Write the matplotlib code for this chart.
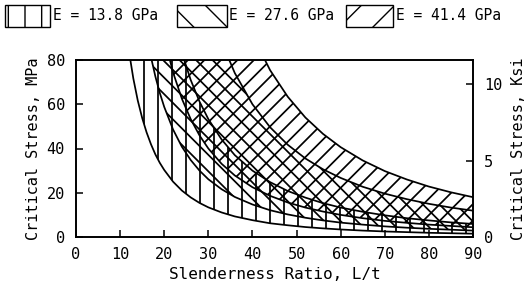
import matplotlib
matplotlib.use("Agg")
import numpy as np
import matplotlib.pyplot as plt
from matplotlib.patches import Rectangle, Polygon
from matplotlib.collections import LineCollection
from matplotlib.transforms import IdentityTransform

plt.rcParams['font.family'] = ['DejaVu Sans Mono', 'DejaVu Sans']

# Slenderness ratio L/t
slenderness = [12, 13, 14, 15, 16, 17, 18, 19, 20, 22, 24, 26, 28, 30, 33, 36,
               40, 44, 48, 52, 56, 60, 65, 70, 75, 80, 85, 90]

# E = 13.8 GPa band (MPa)
e138_lower = [84.0, 71.6, 61.7, 53.8, 47.3, 41.9, 37.3, 33.5, 30.3, 25.0, 21.0, 17.9,
              15.4, 13.4, 11.1, 9.3, 7.6, 6.2, 5.3, 4.5, 3.9, 3.4, 2.9, 2.5, 2.2, 1.9, 1.7, 1.5]
e138_upper = [333.3, 284.0, 244.9, 213.3, 187.5, 166.1, 148.1, 133.0, 120.0, 99.2, 83.3, 71.0,
              61.2, 53.3, 44.1, 37.0, 30.0, 24.8, 20.8, 17.8, 15.3, 13.3, 11.4, 9.8, 8.5, 7.5, 6.6, 5.9]

# E = 27.6 GPa band (MPa)
e276_lower = [163.2, 139.1, 119.9, 104.4, 91.8, 81.3, 72.5, 65.1, 58.8, 48.6, 40.8, 34.8,
              30.0, 26.1, 21.6, 18.1, 14.7, 12.1, 10.2, 8.7, 7.5, 6.5, 5.6, 4.8, 4.2, 3.7, 3.3, 2.9]
e276_upper = [666.7, 568.0, 489.8, 426.7, 375.0, 332.2, 296.3, 265.9, 240.0, 198.3, 166.7, 142.0,
              122.4, 106.7, 88.2, 74.1, 60.0, 49.6, 41.7, 35.5, 30.6, 26.7, 22.7, 19.6, 17.1, 15.0, 13.3, 11.9]

# E = 41.4 GPa band (MPa)
e414_lower = [250.0, 213.0, 183.7, 160.0, 140.6, 124.6, 111.1, 99.7, 90.0, 74.4, 62.5, 53.3,
              45.9, 40.0, 33.1, 27.8, 22.5, 18.6, 15.6, 13.3, 11.5, 10.0, 8.5, 7.3, 6.4, 5.6, 5.0, 4.4]
e414_upper = [1013.9, 863.9, 744.9, 648.9, 570.3, 505.2, 450.6, 404.4, 365.0, 301.7, 253.5, 216.0,
              186.2, 162.2, 134.1, 112.7, 91.3, 75.4, 63.4, 54.0, 46.6, 40.6, 34.6, 29.8, 26.0, 22.8, 20.2, 18.0]

labels = ["E = 13.8 GPa", "E = 27.6 GPa", "E = 41.4 GPa"]
hatches = ["|", "\\", "/"]
bands = [(e138_lower, e138_upper), (e276_lower, e276_upper), (e414_lower, e414_upper)]

x_ticks = [0, 10, 20, 30, 40, 50, 60, 70, 80, 90]
y_ticks = [0, 20, 40, 60, 80]
ksi_ticks = [0, 5, 10]
MPA_PER_KSI = 6.895

W, H = 529, 293
fig = plt.figure(figsize=(W / 100, H / 100), dpi=100)
ax = fig.add_axes([76 / W, 1 - 237 / H, 397 / W, 177 / H])
ax.set_xlim(0, 90)
ax.set_ylim(0, 80)


def hatch_segments(kind, bbox):
    """Parallel hatch lines (pixel space) covering the axes box."""
    x0, y0, x1, y1 = bbox.extents
    if kind == "|":
        xs = np.arange(x0 + 12, x1, 14.0)
        return [[(x, y0), (x, y1)] for x in xs]
    step = 16.5
    if kind == "/":
        cs = np.arange(y0 - x1, y1 - x0, step)
        return [[(x0, x0 + c), (x1, x1 + c)] for c in cs]
    cs = np.arange(x0 + y0, x1 + y1 + step, step)
    return [[(x0, c - x0), (x1, c - x1)] for c in cs]


for (lo, hi), h in zip(bands, hatches):
    verts = list(zip(slenderness, lo)) + list(zip(slenderness[::-1], hi[::-1]))
    region = Polygon(verts, closed=True, fill=False, linewidth=0, transform=ax.transData)
    ax.add_patch(region)
    lc = LineCollection(hatch_segments(h, ax.bbox), colors='black', linewidths=1.25,
                        transform=IdentityTransform())
    ax.add_collection(lc, autolim=False)
    lc.set_clip_path(region)
    ax.plot(slenderness, lo, color='black', lw=1.25)
    ax.plot(slenderness, hi, color='black', lw=1.25)

ax.set_xlim(0, 90)
ax.set_ylim(0, 80)
ax.set_xticks(x_ticks)
ax.set_yticks(y_ticks)
ax.tick_params(direction='in', length=5, width=1.1, labelsize=11, top=False, right=False)
ax.tick_params(axis='x', pad=7)
ax.tick_params(axis='y', pad=8)
for s in ax.spines.values():
    s.set_linewidth(1.2)
ax.set_xlabel("Slenderness Ratio, L/t", fontsize=11.5, labelpad=4)
ax.set_ylabel("Critical Stress, MPa", fontsize=11, labelpad=4)

ax2 = ax.twinx()
ax2.set_ylim(0, 80 / MPA_PER_KSI)
ax2.set_yticks(ksi_ticks)
ax2.tick_params(direction='in', length=5, width=1.1, labelsize=11, pad=8)
ax2.set_ylabel("Critical Stress, Ksi", fontsize=11, labelpad=6)
for s in ax2.spines.values():
    s.set_linewidth(1.2)

# legend drawn at the top of the figure
plt.rcParams['hatch.linewidth'] = 1.0
patch_x = [5, 177, 346]
patch_w = [45, 50, 47]
text_x = [53, 229, 396]
for px, pw, tx, h, lab in zip(patch_x, patch_w, text_x, hatches, labels):
    fig.add_artist(Rectangle((px / W, 1 - 27 / H), pw / W, 22 / H, transform=fig.transFigure,
                             facecolor='white', edgecolor='black', hatch=h, linewidth=1.0))
    fig.text(tx / W, 1 - 16 / H, lab, fontsize=10.5, va='center', ha='left')

fig.savefig("out.png", dpi=100)
